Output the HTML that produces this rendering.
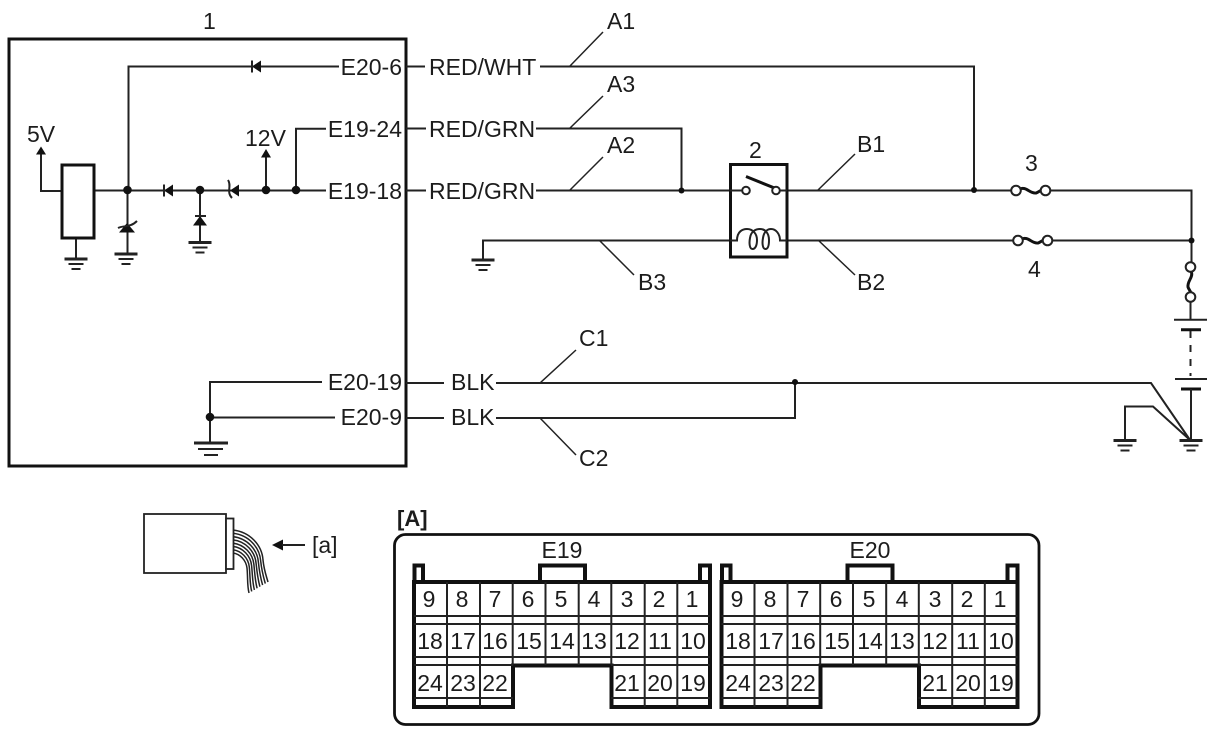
<!DOCTYPE html>
<html><head><meta charset="utf-8"><style>
html,body{margin:0;padding:0;background:#fff}
svg{display:block}
text{font-family:"Liberation Sans",sans-serif;font-size:23px;fill:#1c1c1c}
.w{fill:none;stroke:#222;stroke-width:2}
.w3{fill:none;stroke:#111;stroke-width:3}
.t{fill:none;stroke:#222;stroke-width:1.5}
.t2{fill:none;stroke:#222;stroke-width:2}
.k{fill:none;stroke:#111;stroke-width:4}
.f{fill:#111;stroke:none}
.c{fill:#fff;stroke:#222;stroke-width:2}
.g{fill:none;stroke:#222}
</style></head><body>
<svg width="1214" height="733" viewBox="0 0 1214 733" xmlns="http://www.w3.org/2000/svg">
<defs>
<g id="gnd"><path class="g" stroke-width="3" d="M-11.500,0H11.500"/><path class="g" stroke-width="2" d="M-7.500,5H7.500M-4.500,10H4.500"/></g>
<g id="con">
<path class="k" d="M414,582H710V707H611.500V665.500H513V707H414Z"/>
<path class="k" d="M414.500,582V565.500H423V582M700,582V565.500H710V582M540,582V565.500H585V582"/>
<path class="t2" d="M447,582V707M480,582V707M512.700,582V665M545.500,582V665M578.700,582V665M611.300,582V665M644.700,582V707M677.300,582V707"/>
<path class="t2" d="M414,616H710M414,624H710M414,657H710M414,665H513M611,665H710M414,698H513M611,698H710"/>
</g>
</defs>

<!-- ECM box -->
<rect x="9" y="39" width="397" height="427" fill="none" stroke="#111" stroke-width="3"/>
<text x="203" y="29">1</text>

<!-- internal circuit -->
<path class="w" d="M128.500,190V66.500H339M94,190.500H326M296,190V128.700H326"/>
<path class="w" d="M62,191H41V152M266,190V155M76,238V259M127.500,190V254M200,190V242"/>
<rect x="62" y="165" width="32" height="73" fill="#fff" stroke="#111" stroke-width="3"/>
<path class="f" d="M252,66.500L261,60.500V72.500ZM41,146.500L36,154.500H46ZM266,149L261,157.500H271ZM164,190.500L173,184.500V196.500ZM230,190.500L239,184.500V196.500ZM127,223L119,232.500H135ZM200,216L193,225.500H207Z"/>
<path class="w" d="M252,60.500V72.500M164,184.500V196.500M195,216H206M118,228C124,225 130,228 137,221M228,180C232,186 226,192 232,198"/>
<circle class="f" cx="127.500" cy="190" r="4.300"/><circle class="f" cx="200" cy="190" r="4.300"/><circle class="f" cx="266" cy="190" r="4.300"/><circle class="f" cx="296" cy="190" r="4.300"/>
<use href="#gnd" x="76" y="259"/><use href="#gnd" x="126" y="254"/><use href="#gnd" x="200" y="242.500"/>
<text x="27" y="142">5V</text><text x="245" y="146">12V</text>
<text x="402" y="75" text-anchor="end">E20-6</text>
<text x="402" y="137" text-anchor="end">E19-24</text>
<text x="402" y="199" text-anchor="end">E19-18</text>

<!-- lower-left -->
<path class="w" d="M322,382H210V443M210,417.500H335"/>
<circle class="f" cx="210" cy="417" r="4.300"/>
<path class="g" stroke-width="3" d="M194,443H228"/><path class="g" stroke-width="2" d="M198,449H223M204,455H218"/>
<text x="402" y="390" text-anchor="end">E20-19</text>
<text x="402" y="425" text-anchor="end">E20-9</text>

<!-- harness labels -->
<text x="429" y="75">RED/WHT</text><text x="429" y="137">RED/GRN</text><text x="429" y="199">RED/GRN</text>
<text x="451" y="390">BLK</text><text x="451" y="425">BLK</text>

<!-- wires -->
<path class="w" d="M406,66.500H425M406,128.500H426M406,190.500H426M406,383H444M406,418H444"/>
<path class="w" d="M540,66.500H974V190M536,128.500H681.500V190.500M536,190.500H741M781,190.500H1012M1050,190.500H1191.500V263"/>
<path class="w" d="M483,260V240.500H735M781,240.500H1014M1052,240.500H1191"/>
<path class="w" d="M496,383H1151L1190,440M496,418H795V383M1125,440V406.500H1153L1190,440"/>
<path class="t" d="M570,66L603,32M570,128L603,96M570,190L603,157M600,241L634,275M818,190L855,154M818,240L855,275M540,383L576,350M540,418L576,455"/>
<circle class="f" cx="681.500" cy="190.500" r="3"/><circle class="f" cx="974" cy="190" r="3"/><circle class="f" cx="1191.500" cy="240.500" r="3"/><circle class="f" cx="795" cy="382" r="3"/>
<use href="#gnd" x="483" y="260"/>
<text x="607" y="29">A1</text><text x="607" y="92">A3</text><text x="607" y="153">A2</text>
<text x="638" y="290">B3</text><text x="857" y="152">B1</text><text x="857" y="290">B2</text>
<text x="579" y="346">C1</text><text x="579" y="466">C2</text>

<!-- relay -->
<rect x="730.500" y="164.500" width="56.500" height="92.500" fill="#fff" stroke="#111" stroke-width="3"/>
<path class="w" d="M730,190.500H742M780,190.500H787"/>
<path class="w3" d="M746,176.500L777,189"/>
<circle class="c" cx="746" cy="190.500" r="3.800"/><circle class="c" cx="776" cy="190.500" r="3.800"/>
<path class="w" d="M730,240.500H737C737,231 743,229 747,229C753,229 757,234 757,240C757,246 755,249 752.500,249C749.500,249 749,243 750,238C751,231 756,229 760,229C765,229 769,233 769,240C769,246 768,249 765.500,249C762.500,249 762,243 763,238C764,231 768,229 771,229C776,229 780,234 780,240.500H787"/>
<text x="749" y="158">2</text>

<!-- fuses -->
<path class="w3" d="M1020,189C1026,186 1030,194 1036,193C1038,192.500 1040,190.500 1042,190"/>
<path class="w3" d="M1022,239C1028,236 1032,244 1038,243C1040,242.500 1042,240.500 1044,240"/>
<circle class="c" cx="1016" cy="190.500" r="4.800"/><circle class="c" cx="1045.500" cy="190.500" r="4.800"/>
<circle class="c" cx="1018" cy="240.500" r="4.800"/><circle class="c" cx="1047.500" cy="240.500" r="4.800"/>
<text x="1025" y="171">3</text><text x="1028" y="277">4</text>
<path class="w3" d="M1191,271C1194,277 1187,281 1188,287C1188.500,289 1190.500,291 1191,293"/>
<circle class="c" cx="1190.500" cy="267" r="4.800"/><circle class="c" cx="1190.500" cy="297" r="4.800"/>

<!-- battery -->
<path class="w" d="M1190.500,302V320M1174,319.700H1207M1175,379H1207"/>
<path class="w3" d="M1181,329.700H1201M1181,389H1201"/>
<path class="w" stroke-dasharray="7 7" d="M1190.500,331V376"/>
<path class="w" d="M1191,389V440"/>
<use href="#gnd" x="1191" y="440.500"/><use href="#gnd" x="1125" y="440.500"/>

<!-- connector sketch -->
<rect x="144" y="514" width="82" height="59" fill="#fff" stroke="#222" stroke-width="1.800"/>
<rect x="226" y="518.500" width="7.500" height="50.500" fill="#fff" stroke="#222" stroke-width="1.800"/>
<g>
<path class="t" d="M233,530C250,532 262,545 263,560C264,570 266,575 268,582"/>
<path class="t" d="M233,533.300C248.600,535.100 259.700,547.100 260.700,561.100C261.700,571.100 263.300,576.400 265.300,583.600"/>
<path class="t" d="M233,536.600C247.100,538.300 257.400,549.300 258.400,562.300C259.400,572.300 260.600,577.900 262.600,585.100"/>
<path class="t" d="M233,539.900C245.700,541.400 255.100,551.400 256.100,563.400C257.100,573.400 257.900,579.300 259.900,586.700"/>
<path class="t" d="M233,543.100C244.300,544.600 252.900,553.600 253.900,564.600C254.900,574.600 255.100,580.700 257.100,588.300"/>
<path class="t" d="M233,546.400C242.900,547.700 250.600,555.700 251.600,565.700C252.600,575.700 252.400,582.100 254.400,589.900"/>
<path class="t" d="M233,549.700C241.400,550.900 248.300,557.900 249.300,566.900C250.300,576.900 249.700,583.600 251.700,591.400"/>
<path class="t" d="M233,553C240,554 246,560 247,568C248,578 247,585 249,593"/>
</g>
<path class="f" d="M272,545L283,539.500V550.500Z"/><path class="w" d="M282,545H305"/>
<text x="312" y="553">[a]</text>

<!-- connector view -->
<text x="397" y="526" style="font-weight:bold;font-size:22px">[A]</text>
<rect x="394.500" y="534.500" width="644.500" height="190" rx="11" fill="none" stroke="#111" stroke-width="2.800"/>
<use href="#con"/><use href="#con" x="307.500"/>
<g text-anchor="middle">
<text x="562" y="558">E19</text><text x="870" y="558">E20</text>
<text x="429" y="607">9</text><text x="462" y="607">8</text><text x="495" y="607">7</text><text x="528" y="607">6</text><text x="561" y="607">5</text><text x="594" y="607">4</text><text x="627" y="607">3</text><text x="659" y="607">2</text><text x="692" y="607">1</text>
<text x="430" y="649">18</text><text x="463" y="649">17</text><text x="495" y="649">16</text><text x="529" y="649">15</text><text x="562" y="649">14</text><text x="594" y="649">13</text><text x="627" y="649">12</text><text x="660" y="649">11</text><text x="693" y="649">10</text>
<text x="430" y="691">24</text><text x="463" y="691">23</text><text x="495" y="691">22</text><text x="627" y="691">21</text><text x="660" y="691">20</text><text x="693" y="691">19</text>
<text x="737" y="607">9</text><text x="770" y="607">8</text><text x="803" y="607">7</text><text x="836" y="607">6</text><text x="869" y="607">5</text><text x="902" y="607">4</text><text x="935" y="607">3</text><text x="967" y="607">2</text><text x="1000" y="607">1</text>
<text x="738" y="649">18</text><text x="771" y="649">17</text><text x="803" y="649">16</text><text x="837" y="649">15</text><text x="870" y="649">14</text><text x="902" y="649">13</text><text x="935" y="649">12</text><text x="968" y="649">11</text><text x="1001" y="649">10</text>
<text x="738" y="691">24</text><text x="771" y="691">23</text><text x="803" y="691">22</text><text x="935" y="691">21</text><text x="968" y="691">20</text><text x="1001" y="691">19</text>
</g>
</svg>
</body></html>
